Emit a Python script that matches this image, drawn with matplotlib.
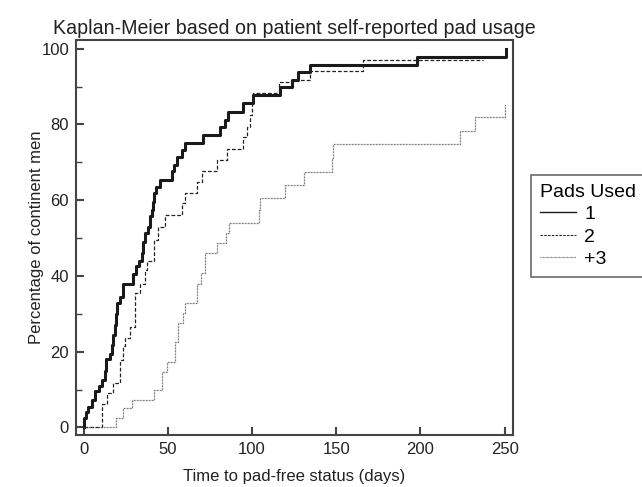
import matplotlib
matplotlib.use("Agg")
import matplotlib.pyplot as plt
from matplotlib.ticker import MultipleLocator
from matplotlib.lines import Line2D

plt.rcParams['font.family'] = ['Liberation Sans', 'DejaVu Sans']

# Data (event times in days, cumulative %)
t1 = [0, 0.5, 1.5, 2.5, 5, 7, 9, 10.8, 12.5, 13.6, 15.5, 16.7, 17.7, 18.5, 19.5, 20,
      21.7, 23.6, 29.6, 31, 33, 34.5, 35.5, 36.5, 38, 39.5, 40.5, 41.4, 42, 43, 45.4,
      52.3, 53.5, 55.3, 58.3, 60.2, 71.1, 81, 84, 85.5, 94.8, 100.8, 116.6, 123.5,
      127.5, 134.4, 198, 250.7]
p1 = [0, 2.4, 4.0, 5.4, 7.2, 9.5, 11, 12.5, 15, 18, 19.5, 21.7, 24.5, 27, 30, 32.8,
      34.5, 38, 40.5, 42.5, 44, 46, 49, 51.3, 53, 55.7, 57.4, 59.5, 61.8, 63.4, 65.3,
      67.8, 69.3, 71.3, 73.3, 75.2, 77.2, 79.4, 81.2, 83.4, 85.6, 87.8, 89.8, 91.8,
      93.8, 95.8, 97.9, 100]

t2 = [0, 10.8, 13.7, 17.7, 21.5, 23.3, 24.6, 27.5, 30.6, 33.5, 36.5, 37.5, 41.8, 44.4,
      48.4, 58.3, 60.2, 67.2, 70.1, 79, 85, 94.8, 96.9, 98.8, 99.8, 100.8, 116.2, 124,
      134.4, 166, 237.3]
p2 = [0, 6.2, 9, 11.7, 17.8, 21.5, 23.6, 26.6, 35.4, 38, 41.6, 44, 49.5, 53,
      56, 59.2, 61.8, 64.9, 67.8, 70.6, 73.5, 76.8, 79.4, 82.5, 86, 88.3, 91.1, 91.8,
      94.1, 97, 97]

t3 = [0, 19.1, 23.3, 28.6, 41.8, 46.6, 49.8, 54.3, 56.3, 59.2, 60, 67.4, 70, 72.3, 79,
      84.5, 86.5, 104.3, 105, 119.6, 131, 147.5, 148.2, 223.4, 232.7, 250.1]
p3 = [0, 2.4, 5, 7.2, 9.9, 14.7, 17.3, 22.6, 27.5, 30.1, 32.9, 38, 40.7, 46, 48.6,
      51.3, 54, 57.5, 60.5, 64, 67.5, 71, 74.8, 78.4, 81.9, 85.4]

groups = ["1", "2", "+3"]
x_ticks = [0, 50, 100, 150, 200, 250]
y_ticks = [0, 20, 40, 60, 80, 100]

fig = plt.figure(figsize=(6.42, 4.87), dpi=100)
ax = fig.add_axes([76/642, 1 - 435/487, 437/642, 395/487])

ax.step(t1, p1, where='post', color='#1a1a1a', lw=2.2)
ax.step(t2, p2, where='post', color='#222222', lw=0.9, dashes=(3, 1.6))
ax.step(t3, p3, where='post', color='#555555', lw=0.9, dashes=(0.6, 0.6))

ax.set_xlim(-4.5, 255)
ax.set_ylim(-2, 102.3)
ax.set_xticks(x_ticks)
ax.set_yticks(y_ticks)
ax.yaxis.set_minor_locator(MultipleLocator(10))

for s in ax.spines.values():
    s.set_color('#444444')
    s.set_linewidth(1.5)

ax.tick_params(axis='both', which='major', direction='in', length=5.5, width=1.5,
               color='#444444', labelsize=12, labelcolor='#222222', pad=5)
ax.tick_params(axis='y', which='minor', direction='in', length=4, width=1.0, color='#444444')

ax.set_xlabel("Time to pad-free status (days)", fontsize=12, color='#222222', labelpad=9)
ax.set_ylabel("Percentage of continent men", fontsize=12, color='#222222')
ax.yaxis.set_label_coords(-0.073, 0.5)
ax.set_title("Kaplan-Meier based on patient self-reported pad usage", fontsize=14.1,
             color='#222222', pad=4)

handles = [Line2D([], [], color='#1a1a1a', lw=1.0),
           Line2D([], [], color='#222222', lw=0.8, dashes=(2.2, 1.2)),
           Line2D([], [], color='#555555', lw=0.8, dashes=(0.6, 0.6))]
leg = fig.legend(handles, groups, loc='upper left', bbox_to_anchor=(531/642, 1 - 175/487),
                 title="Pads Used", fontsize=14, title_fontsize=14, frameon=True,
                 fancybox=False, handlelength=1.85, handletextpad=0.45,
                 borderaxespad=0, borderpad=0.45, labelspacing=0.25)
leg.get_frame().set_edgecolor('#444444')
leg.get_frame().set_linewidth(1.2)
leg._legend_box.align = "left"

fig.savefig("out.png", dpi=100)
